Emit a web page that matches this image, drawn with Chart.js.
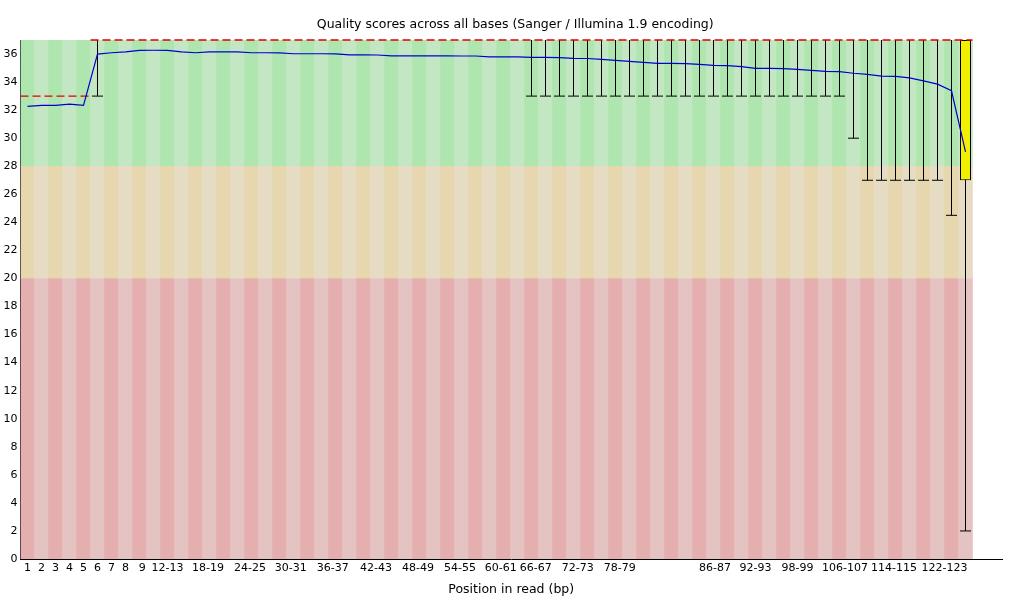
<!DOCTYPE html>
<html><head><meta charset="utf-8">
<script src="https://cdn.jsdelivr.net/npm/chart.js@4/dist/chart.umd.min.js"></script>
<style>html,body{margin:0;padding:0;background:#fff}#wrap{width:1020px;height:600px;position:relative}</style>
</head><body><div id="wrap"><canvas id="c"></canvas></div>
<script>
// Position groups (bp)
const categories = ['1','2','3','4','5','6','7','8','9',
 '10-11','12-13','14-15','16-17','18-19','20-21','22-23','24-25','26-27','28-29',
 '30-31','32-33','34-35','36-37','38-39','40-41','42-43','44-45','46-47','48-49',
 '50-51','52-53','54-55','56-57','58-59','60-61','62-63','64-65','66-67','68-69',
 '70-71','72-73','74-75','76-77','78-79','80-81','82-83','84-85','86-87','88-89',
 '90-91','92-93','94-95','96-97','98-99','100-101','102-103','104-105','106-107','108-109',
 '110-111','112-113','114-115','116-117','118-119','120-121','122-123','124-125','126-127'];

// Mean quality (blue line)
const meanQ = [32.27,32.34,32.34,32.43,32.34,35.99,36.09,36.16,36.26,36.27,
 36.26,36.16,36.09,36.16,36.16,36.15,36.09,36.09,36.08,36.02,
 36.02,36.02,36.01,35.94,35.94,35.93,35.87,35.87,35.87,35.87,
 35.87,35.86,35.86,35.80,35.80,35.79,35.76,35.76,35.75,35.69,
 35.68,35.62,35.55,35.47,35.40,35.33,35.33,35.32,35.26,35.19,
 35.18,35.10,34.98,34.97,34.96,34.90,34.83,34.76,34.75,34.63,
 34.55,34.42,34.41,34.30,34.08,33.85,33.38,29.03];

// Median (red dashed)
const medianQ = [33,33,33,33,33,37,37,37,37,37, 37,37,37,37,37,37,37,37,37,37,
 37,37,37,37,37,37,37,37,37,37, 37,37,37,37,37,37,37,37,37,37,
 37,37,37,37,37,37,37,37,37,37, 37,37,37,37,37,37,37,37,37,37,
 37,37,37,37,37,37,37,37];

// Lower quartile / upper quartile (yellow box)
const q1 = [33,33,33,33,33,37,37,37,37,37, 37,37,37,37,37,37,37,37,37,37,
 37,37,37,37,37,37,37,37,37,37, 37,37,37,37,37,37,37,37,37,37,
 37,37,37,37,37,37,37,37,37,37, 37,37,37,37,37,37,37,37,37,37,
 37,37,37,37,37,37,37,27];
const q3 = [33,33,33,33,33,37,37,37,37,37, 37,37,37,37,37,37,37,37,37,37,
 37,37,37,37,37,37,37,37,37,37, 37,37,37,37,37,37,37,37,37,37,
 37,37,37,37,37,37,37,37,37,37, 37,37,37,37,37,37,37,37,37,37,
 37,37,37,37,37,37,37,37];

// 10th / 90th percentile (whiskers)
const p10 = [33,33,33,33,33,33,37,37,37,37, 37,37,37,37,37,37,37,37,37,37,
 37,37,37,37,37,37,37,37,37,37, 37,37,37,37,37,37,33,33,33,33,
 33,33,33,33,33,33,33,33,33,33, 33,33,33,33,33,33,33,33,33,30,
 27,27,27,27,27,27,24.5,2];
const p90 = [33,33,33,33,33,37,37,37,37,37, 37,37,37,37,37,37,37,37,37,37,
 37,37,37,37,37,37,37,37,37,37, 37,37,37,37,37,37,37,37,37,37,
 37,37,37,37,37,37,37,37,37,37, 37,37,37,37,37,37,37,37,37,37,
 37,37,37,37,37,37,37,37];

// Shown x tick labels and the column (group index) where each is printed
const xTickLabels = ['1','2','3','4','5','6','7','8','9','12-13','18-19','24-25','30-31','36-37',
 '42-43','48-49','54-55','60-61','66-67','72-73','78-79','86-87','92-93','98-99','106-107','114-115','122-123'];
const xTickAt = [0,1,2,3,4,5,6,7,8.2,10,12.9,15.9,18.8,21.8,24.9,27.9,30.9,33.8,36.3,39.3,42.3,49.1,52,55,58.4,61.9,65.5];

// Quality zones: bad / reasonable / good
const zoneBounds = [0,20,28,37];
const zoneColors = [
  ['rgb(230,175,175)','rgb(230,195,195)'],
  ['rgb(230,215,175)','rgb(230,220,195)'],
  ['rgb(175,230,175)','rgb(195,230,195)']
];

const FONT = {family:'DejaVu Sans', size:11, weight:'normal'};
const TITLE_FONT = {family:'DejaVu Sans', size:12.5, weight:'normal'};
Chart.defaults.font.family = 'DejaVu Sans';
Chart.defaults.font.size = 11;
Chart.defaults.color = '#000';

const idx = categories.map((c,i)=>i);
const datasets = [];

// mean line
datasets.push({type:'line', order:0, data: idx.map(i=>({x:i,y:meanQ[i]})),
  borderColor:'rgb(0,0,210)', borderWidth:1.2, pointRadius:0, tension:0, fill:false});

// median: horizontal segment across each column, broken where value changes
const medPts = [];
idx.forEach(i=>{
  medPts.push({x:i-0.5,y:medianQ[i]});
  medPts.push({x:i+0.5,y:medianQ[i]});
  if (i < idx.length-1 && medianQ[i+1] !== medianQ[i]) medPts.push({x:i+0.5,y:null});
});
datasets.push({type:'line', order:1, data: medPts, borderColor:'rgb(225,0,0)', borderWidth:1.3,
  borderDash:[8,4], pointRadius:0, tension:0, spanGaps:false, fill:false, clip:false});

// IQR box
datasets.push({type:'bar', order:2, grouped:false, barThickness:11,
  data: idx.filter(i=>q3[i]>q1[i]).map(i=>({x:i,y:[q1[i],q3[i]]})),
  backgroundColor:'rgb(240,240,0)', borderColor:'#000', borderWidth:1, borderSkipped:false, inflateAmount:0});

// whisker caps (lower)
datasets.push({type:'line', order:3, showLine:false,
  data: idx.filter(i=>p90[i]>p10[i]).map(i=>({x:i,y:p10[i]})),
  pointStyle:'line', pointRadius:5.5, pointBorderColor:'#000', pointBorderWidth:1, pointBackgroundColor:'#000'});

// whiskers
datasets.push({type:'bar', order:4, grouped:false, barThickness:1,
  data: idx.filter(i=>p90[i]>p10[i]).map(i=>({x:i,y:[p10[i],p90[i]]})),
  backgroundColor:'#000', borderWidth:0, inflateAmount:0});

// background zones
zoneColors.forEach((cols,k)=>{
  datasets.push({type:'bar', order:5+k, grouped:false, barThickness:14,
    data: idx.map(i=>({x:i,y:[zoneBounds[k],zoneBounds[k+1]]})),
    backgroundColor: idx.map(i=> i%2===0 ? cols[0] : cols[1]), borderWidth:0});
});

const titleShift = {
  id:'titleShift',
  afterLayout(chart){
    const t = chart.titleBlock;
    if (t) { t.left = chart.chartArea.left; t.right = chart.width - 10; }
  }
};

new Chart(document.getElementById('c'), {
  type:'bar',
  data:{datasets},
  plugins:[titleShift],
  options:{
    responsive:true, maintainAspectRatio:false, animation:false, events:[],
    layout:{padding:{left:0,right:18,top:0,bottom:0}},
    plugins:{
      legend:{display:false}, tooltip:{enabled:false},
      title:{display:true, text:'Quality scores across all bases (Sanger / Illumina 1.9 encoding)',
        font:TITLE_FONT, color:'#000', padding:{top:17.4,bottom:7.6}}
    },
    scales:{
      x:{type:'linear', min:-0.5, max:-0.5 + (1002-20.5)/14, offset:false,
        afterBuildTicks:(s)=>{ s.ticks = xTickAt.map(v=>({value:v})); },
        ticks:{autoSkip:false, maxRotation:0, minRotation:0, padding:3, font:FONT, color:'#000',
          callback:(v,i)=>xTickLabels[i]},
        grid:{display:false, drawTicks:false},
        border:{display:true, color:'#000', width:1},
        title:{display:true, text:'Position in read (bp)', font:TITLE_FONT, color:'#000', padding:{top:0,bottom:2.5}},
        afterFit:(s)=>{ s.height = 41; }
      },
      y:{type:'linear', min:0, max:37,
        ticks:{stepSize:2, includeBounds:false, padding:3, font:FONT, color:'#000'},
        grid:{display:false, drawTicks:false},
        border:{display:true, color:'#000', width:1},
        afterFit:(s)=>{ s.width = 20.5; }
      }
    }
  }
});
</script></body></html>
